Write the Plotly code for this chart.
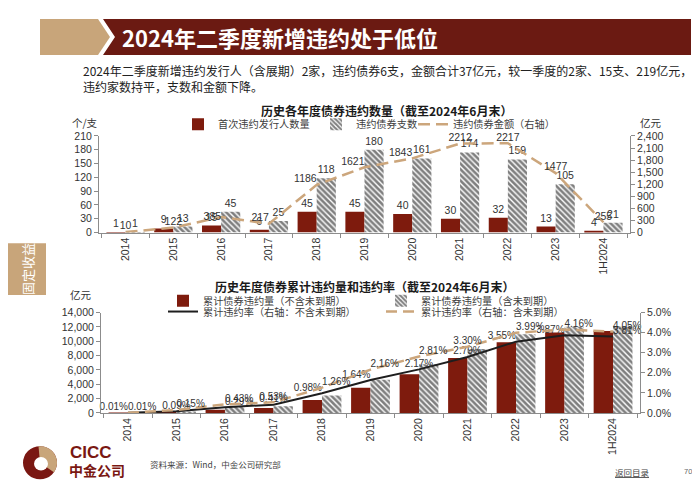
import numpy as np
import plotly.graph_objects as go

# ---------------- data ----------------
years = ["2014", "2015", "2016", "2017", "2018", "2019", "2020", "2021", "2022", "2023", "1H2024"]

# top chart: annual defaults
first_default_issuers = [1, 9, 15, 6, 45, 45, 40, 30, 32, 13, 4]          # 个
default_bonds = [1, 13, 45, 25, 118, 180, 161, 174, 159, 105, 21]          # 支
default_amount = [10, 122, 385, 217, 1186, 1621, 1843, 2212, 2217, 1477, 255]  # 亿元 (right axis)

# bottom chart: cumulative defaults
cum_amount_excl = [10, 100, 450, 700, 1800, 3500, 5400, 7660, 9840, 11200, 11430]   # 亿元 不含未到期
cum_amount_incl = [10, 140, 860, 950, 2450, 4620, 6800, 8930, 10980, 12000, 12100]  # 亿元 含未到期
cum_rate_excl = [0.01, 0.09, 0.29, 0.41, 0.98, 1.64, 2.17, 2.79, 3.55, 3.87, 3.81]  # %
cum_rate_incl = [0.01, 0.15, 0.43, 0.53, 1.26, 2.16, 2.81, 3.30, 3.99, 4.16, 4.05]  # %

top_left_ticks = list(range(0, 211, 30))
top_right_ticks = list(range(0, 2401, 300))
bot_left_ticks = list(range(0, 14001, 2000))
bot_right_ticks = [0, 0.01, 0.02, 0.03, 0.04, 0.05]

# ---------------- styling ----------------
W, H = 700, 490
RED = "#7E1B0D"
BANNER = "#6B1A12"
TAN = "#C8A57A"
LINE_TAN = "#CCA67C"
AXIS = "#8C8C8C"
TXT = "#333333"
FONT = "Liberation Sans, Arial, Noto Sans CJK SC, sans-serif"
CJK = "Noto Sans CJK SC, Liberation Sans, sans-serif"
HATCH = dict(shape="\\", fgcolor="#000000", bgcolor="white", size=4, solidity=0.65)


def px(x):
    return x / W


def py(y):
    return 1 - y / H


fig = go.Figure()

# ---- top chart ----
fig.add_trace(go.Bar(
    x=years, y=first_default_issuers, name="首次违约发行人数量",
    marker=dict(color=RED, line=dict(width=0)),
    text=first_default_issuers, textposition="outside", constraintext="none",
    textfont=dict(size=10.5, color=TXT), cliponaxis=False,
    xaxis="x", yaxis="y", legend="legend", showlegend=True))
fig.add_trace(go.Bar(
    x=years, y=default_bonds, name="违约债券支数",
    marker=dict(color="white", line=dict(width=0), pattern=HATCH),
    text=default_bonds, textposition="outside", constraintext="none",
    textfont=dict(size=10.5, color=TXT), cliponaxis=False,
    xaxis="x", yaxis="y", legend="legend2"))
fig.add_trace(go.Scatter(
    x=years, y=default_amount, name="违约债券金额（右轴）", mode="lines+text",
    line=dict(color=LINE_TAN, width=2.5, dash="12px,6px"),
    text=default_amount,
    textposition=["top center", "top center", "middle left", "top left", "top left", "top left",
                  "top left", "top center", "top center", "top center", "top center"],
    textfont=dict(size=10.5, color=TXT), cliponaxis=False,
    xaxis="x", yaxis="y2", legend="legend3"))

# ---- bottom chart ----
fig.add_trace(go.Bar(
    x=years, y=cum_amount_excl, name="累计债券违约量（不含未到期）",
    marker=dict(color=RED, line=dict(width=0)),
    xaxis="x2", yaxis="y3", legend="legend4"))
fig.add_trace(go.Bar(
    x=years, y=cum_amount_incl, name="累计债券违约量（含未到期）",
    marker=dict(color="white", line=dict(width=0), pattern=HATCH),
    xaxis="x2", yaxis="y3", legend="legend5"))
fig.add_trace(go.Scatter(
    x=years, y=[v / 100 for v in cum_rate_excl], name="累计违约率（右轴：不含未到期）",
    mode="lines+text", line=dict(color="#1E1E1E", width=2),
    texttemplate="%{y:.2%}",
    textposition=["top left", "top center", "top right", "top center", "top left", "top left",
                  "top center", "top center", "top left", "top left", "top right"],
    textfont=dict(size=10, color=TXT), cliponaxis=False,
    xaxis="x2", yaxis="y4", legend="legend6"))
fig.add_trace(go.Scatter(
    x=years, y=[v / 100 for v in cum_rate_incl], name="累计违约率（右轴：含未到期）",
    mode="lines+text", line=dict(color=LINE_TAN, width=2.5, dash="11px,6px"),
    texttemplate="%{y:.2%}",
    textposition=["top right", "top right", "top right", "top center", "top right", "top right",
                  "top right", "top center", "top right", "top right", "top right"],
    textfont=dict(size=10, color=TXT), cliponaxis=False,
    xaxis="x2", yaxis="y4", legend="legend7"))

axis_common = dict(showline=True, linecolor=AXIS, linewidth=1, showgrid=False, zeroline=False,
                   ticks="outside", tickcolor=AXIS, ticklen=4,
                   tickfont=dict(family=FONT, size=10.5, color=TXT))
xcommon = dict(axis_common, type="category", tickangle=-90, tickson="boundaries", ticklen=4)


def legend_at(xtext, ycenter):
    return dict(x=px(xtext - 40), y=py(ycenter), xanchor="left", yanchor="middle",
                orientation="h", bgcolor="rgba(0,0,0,0)", borderwidth=0,
                itemwidth=30, font=dict(family=CJK, size=10.2, color="#404040"))


fig.update_layout(
    width=W, height=H, margin=dict(l=0, r=0, t=0, b=0),
    paper_bgcolor="white", plot_bgcolor="white",
    font=dict(family=FONT, size=10.5, color=TXT),
    showlegend=True,
    barmode="group", bargap=0.2, bargroupgap=0,
    xaxis=dict(xcommon, domain=[px(91), px(622)], anchor="y"),
    yaxis=dict(axis_common, domain=[py(224), py(125)], range=[0, 210],
               tickvals=top_left_ticks, anchor="x"),
    yaxis2=dict(axis_common, overlaying="y", side="right", anchor="x", range=[0, 2400],
                tickvals=top_right_ticks, tickformat=","),
    xaxis2=dict(xcommon, domain=[px(93), px(632)], anchor="y3"),
    yaxis3=dict(axis_common, domain=[py(409), py(306)], range=[0, 14000],
                tickvals=bot_left_ticks, tickformat=",", anchor="x2"),
    yaxis4=dict(axis_common, overlaying="y3", side="right", anchor="x2", range=[0, 0.05],
                tickvals=bot_right_ticks, tickformat=".1%"),
    legend=legend_at(210, 113),
    legend2=legend_at(348, 113),
    legend3=legend_at(445, 113),
    legend4=legend_at(195, 294),
    legend5=legend_at(413, 294),
    legend6=legend_at(195, 305),
    legend7=legend_at(413, 305),
)

shapes = []
# header banner
shapes.append(dict(type="path", xref="paper", yref="paper", line=dict(width=0), fillcolor=TAN,
                   path=f"M {px(32)},{py(5)} L {px(90)},{py(5)} L {px(102)},{py(23.5)} "
                        f"L {px(90)},{py(42)} L {px(32)},{py(42)} Z"))
shapes.append(dict(type="path", xref="paper", yref="paper", line=dict(width=0), fillcolor=BANNER,
                   path=f"M {px(95)},{py(5)} L {px(683)},{py(5)} L {px(683)},{py(42)} "
                        f"L {px(95)},{py(42)} L {px(107)},{py(23.5)} Z"))
# side tab
shapes.append(dict(type="rect", xref="paper", yref="paper", line=dict(width=0), fillcolor=TAN,
                   x0=px(0), x1=px(38), y0=py(288), y1=py(235)))

# logo
cx, cy, R = 32, 460, 17
shapes.append(dict(type="circle", xref="paper", yref="paper", line=dict(width=0), fillcolor="#7A1712",
                   x0=px(cx - R), x1=px(cx + R), y0=py(cy + R), y1=py(cy - R)))
angs = np.linspace(-35, 95, 30)
pts = [(cx + R * np.cos(np.radians(a)), cy - R * np.sin(np.radians(a))) for a in angs]
path = f"M {px(cx)},{py(cy)} " + " ".join(f"L {px(x)},{py(y)}" for x, y in pts) + " Z"
shapes.append(dict(type="path", xref="paper", yref="paper", line=dict(width=0), fillcolor=TAN, path=path))
r2 = 7
shapes.append(dict(type="circle", xref="paper", yref="paper", line=dict(width=0), fillcolor="white",
                   x0=px(cx + 1 - r2), x1=px(cx + 1 + r2), y0=py(cy + 1 + r2), y1=py(cy + 1 - r2)))
fig.update_layout(shapes=shapes)

ann = []


def add_text(text, x, y, size, color=TXT, xanchor="left", yanchor="middle", family=CJK,
             weight="normal", angle=0):
    ann.append(dict(text=text, x=px(x), y=py(y), xref="paper", yref="paper", showarrow=False,
                    xanchor=xanchor, yanchor=yanchor, textangle=angle,
                    font=dict(family=family, size=size, color=color, weight=weight)))


add_text("2024年二季度新增违约处于低位", 112, 24, 22, color="white", weight="bold")
add_text("2024年二季度新增违约发行人（含展期）2家，违约债券6支，金额合计37亿元，较一季度的2家、15支、219亿元，",
         73, 58, 12, color="#222222")
add_text("违约家数持平，支数和金额下降。", 73, 74, 12, color="#222222")

add_text("历史各年度债券违约数量（截至2024年6月末）", 378, 99, 12, color="#1a1a1a",
         xanchor="center", weight="bold")
add_text("个/支", 77, 111, 10.5, xanchor="center")
add_text("亿元", 643, 111, 10.5, xanchor="center")

add_text("历史年度债券累计违约量和违约率（截至2024年6月末）", 356, 279, 12, color="#1a1a1a",
         xanchor="center", weight="bold")
add_text("亿元", 73, 288, 10.5, xanchor="center")

add_text("固定收益", 19, 261.5, 13, color="white", xanchor="center", angle=-90)

add_text("CICC", 60, 450, 17, color="#7A1712", family="Liberation Sans, Arial", weight="bold")
add_text("中金公司", 59, 467, 14, color="#7A1712", weight="bold")
add_text("资料来源：Wind，中金公司研究部", 140, 461, 8.5, color="#444444")
add_text("<u>返回目录</u>", 605, 470, 8.5, color="#444444")
add_text("70", 680, 469, 7.5, color="#666666", family=FONT, xanchor="center")

fig.update_layout(annotations=ann)

fig.write_html("out.html")
